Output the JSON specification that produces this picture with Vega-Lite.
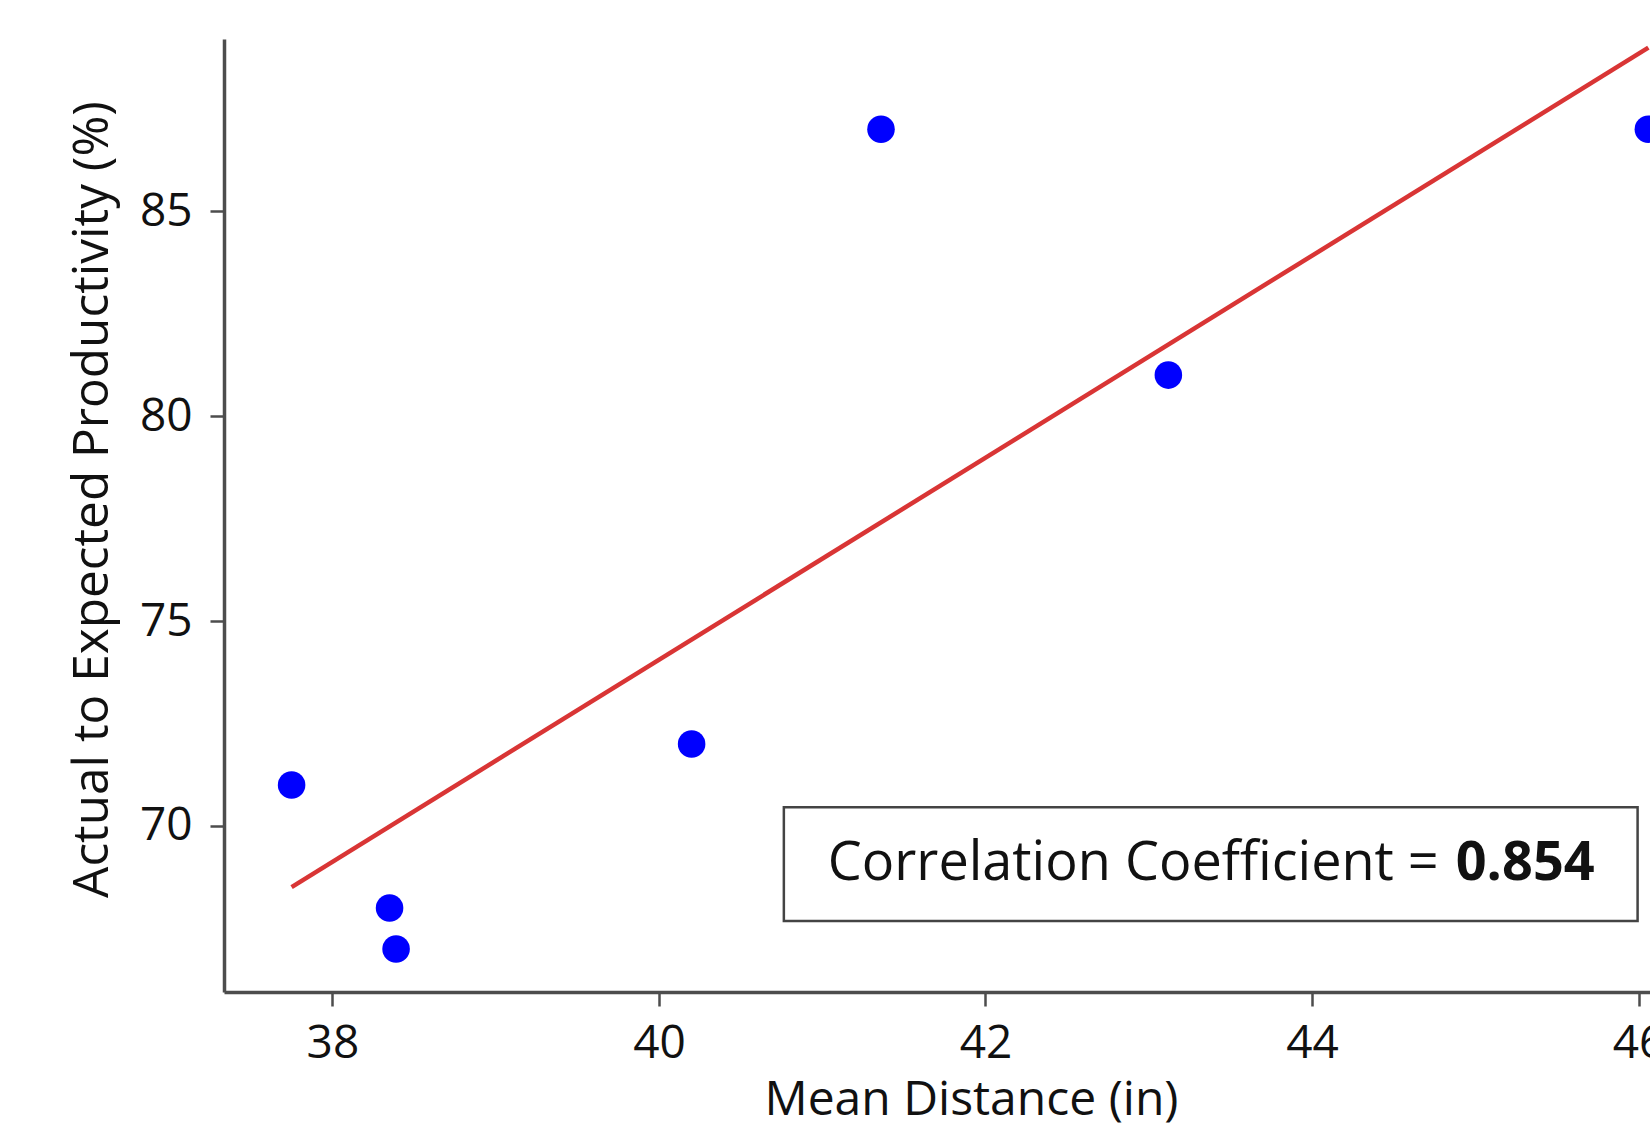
{
  "$schema": "https://vega.github.io/schema/vega-lite/v6.json",
  "width": 1426,
  "height": 953,
  "autosize": {"type": "none"},
  "padding": {"left": 224, "top": 39, "right": 0, "bottom": 138},
  "background": "white",
  "config": {
    "view": {"stroke": null},
    "font": "Open Sans",
    "axis": {
      "grid": false,
      "domainColor": "#4d4d4d",
      "domainWidth": 3.5,
      "tickColor": "#4d4d4d",
      "tickWidth": 2.5,
      "tickSize": 14,
      "labelFont": "Open Sans",
      "labelFontSize": 46,
      "labelColor": "#111111",
      "titleFont": "Open Sans",
      "titleFontSize": 48,
      "titleFontWeight": "normal",
      "titleColor": "#111111"
    }
  },
  "datasets": {
    "points": [
      {"distance": 37.75, "productivity": 71.0},
      {"distance": 38.35, "productivity": 68.0},
      {"distance": 38.39, "productivity": 67.0},
      {"distance": 40.20, "productivity": 72.0},
      {"distance": 41.36, "productivity": 87.0},
      {"distance": 43.12, "productivity": 81.0},
      {"distance": 46.06, "productivity": 87.0}
    ],
    "fit": [
      {"distance": 37.75, "productivity": 68.51},
      {"distance": 46.06, "productivity": 88.99}
    ],
    "box": [
      {"x1": 40.765, "x2": 45.994, "y1": 67.68, "y2": 70.46}
    ],
    "label": [
      {"x": 41.034, "y": 69.07, "text": "Correlation Coefficient = "}
    ],
    "value": [
      {"x": 45.731, "y": 69.07, "text": "0.854"}
    ]
  },
  "layer": [
    {
      "data": {"name": "fit"},
      "mark": {"type": "line", "color": "#d93535", "strokeWidth": 4.5, "clip": true},
      "encoding": {
        "x": {
          "field": "distance", "type": "quantitative",
          "scale": {"domain": [37.336, 46.07], "nice": false, "zero": false},
          "axis": {
            "title": "Mean Distance (in)",
            "values": [38, 40, 42, 44, 46],
            "format": "d",
            "labelPadding": 15,
            "titlePadding": 10,
            "titleX": 747,
            "titleAnchor": null
          }
        },
        "y": {
          "field": "productivity", "type": "quantitative",
          "scale": {"domain": [65.95, 89.2], "nice": false, "zero": false},
          "axis": {
            "title": "Actual to Expected Productivity (%)",
            "values": [70, 75, 80, 85],
            "labelPadding": 18,
            "titlePadding": 22,
            "titleFontSize": 49.5,
            "titleY": 460
          }
        }
      }
    },
    {
      "data": {"name": "points"},
      "mark": {"type": "circle", "color": "#0000ff", "opacity": 1, "size": 760, "clip": true},
      "encoding": {
        "x": {"field": "distance", "type": "quantitative"},
        "y": {"field": "productivity", "type": "quantitative"}
      }
    },
    {
      "data": {"name": "box"},
      "mark": {"type": "rect", "fill": "white", "stroke": "#444444", "strokeWidth": 2.5},
      "encoding": {
        "x": {"field": "x1", "type": "quantitative"},
        "x2": {"field": "x2"},
        "y": {"field": "y1", "type": "quantitative"},
        "y2": {"field": "y2"}
      }
    },
    {
      "data": {"name": "label"},
      "mark": {"type": "text", "align": "left", "baseline": "middle", "font": "Open Sans", "fontSize": 54, "color": "#111111"},
      "encoding": {
        "x": {"field": "x", "type": "quantitative"},
        "y": {"field": "y", "type": "quantitative"},
        "text": {"field": "text"}
      }
    },
    {
      "data": {"name": "value"},
      "mark": {"type": "text", "align": "right", "baseline": "middle", "font": "Open Sans", "fontSize": 54, "fontWeight": "bold", "color": "#111111"},
      "encoding": {
        "x": {"field": "x", "type": "quantitative"},
        "y": {"field": "y", "type": "quantitative"},
        "text": {"field": "text"}
      }
    }
  ]
}
